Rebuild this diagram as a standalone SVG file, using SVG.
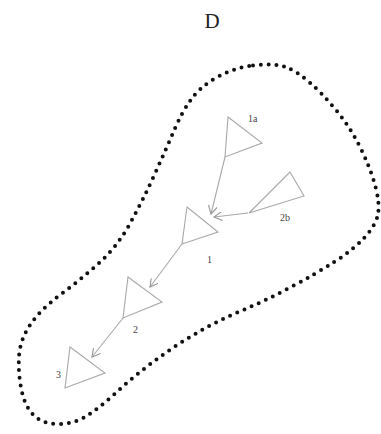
<svg xmlns="http://www.w3.org/2000/svg" width="381" height="434" viewBox="0 0 381 434">
<style>
.tri{fill:none;stroke:#a8a8a8;stroke-width:1.1;stroke-linejoin:miter}
.lbl{font-family:"Liberation Serif",serif;font-size:10px;fill:#444}
.con{fill:none;stroke:#a8a8a8;stroke-width:1.1;marker-end:url(#ah)}
.outline{fill:none;stroke:#111;stroke-width:4;stroke-dasharray:0 7.8;stroke-linecap:round}
</style>
<defs>
<marker id="ah" viewBox="0 0 10 10" refX="9" refY="5" markerWidth="9" markerHeight="9" markerUnits="userSpaceOnUse" orient="auto">
<path d="M0,0 L9,5 L0,10" fill="none" stroke="#999" stroke-width="1.3"/>
</marker>
</defs>
<rect width="381" height="434" fill="#fff"/>
<text x="212" y="28" text-anchor="middle" style="font-family:'Liberation Serif',serif;font-size:21px;fill:#222">D</text>
<path class="outline" d="M253,65.5 Q273,63 284,66.5 Q295,70 308.5,81.5 Q322,93 336,110 Q350,127 360,147 Q370,167 375,185 Q380,203 378,214 Q376,225 364.5,237.5 Q353,250 335,261.5 Q317,273 292,286.5 Q267,300 242,310.5 Q217,321 195,334 Q173,347 153,362 Q133,377 115,393.5 Q97,410 85,417 Q73,424 58,424 Q43,424 34,415.5 Q25,407 21.5,390 Q18,373 19,356.5 Q20,340 30,325 Q40,310 60,295 Q80,280 98.5,263.5 Q117,247 130,223.5 Q143,200 155,173.5 Q167,147 174.5,129.5 Q182,112 191,99.5 Q200,87 216.5,77.5 Q233,68 253,65.5 Z"/>
<g id="connectors">
<line class="con" x1="225" y1="157" x2="211" y2="214"/>
<line class="con" x1="248" y1="213" x2="214" y2="217"/>
<line class="con" x1="182" y1="244" x2="150" y2="287"/>
<line class="con" x1="123" y1="318" x2="92" y2="357"/>
</g>
<g id="n1a">
<polygon class="tri" points="228,117 262,143 225,157"/>
<text class="lbl" x="248" y="122">1a</text>
</g>
<g id="n2b">
<polygon class="tri" points="290,172 304,196 249,213"/>
<text class="lbl" x="280" y="221">2b</text>
</g>
<g id="n1">
<polygon class="tri" points="187,207 218,232 182,244"/>
<text class="lbl" x="207" y="263">1</text>
</g>
<g id="n2">
<polygon class="tri" points="128,277 162,302 123,318"/>
<text class="lbl" x="133" y="333">2</text>
</g>
<g id="n3">
<polygon class="tri" points="70,347 105,373 65,388"/>
<text class="lbl" x="56" y="378">3</text>
</g>
</svg>
